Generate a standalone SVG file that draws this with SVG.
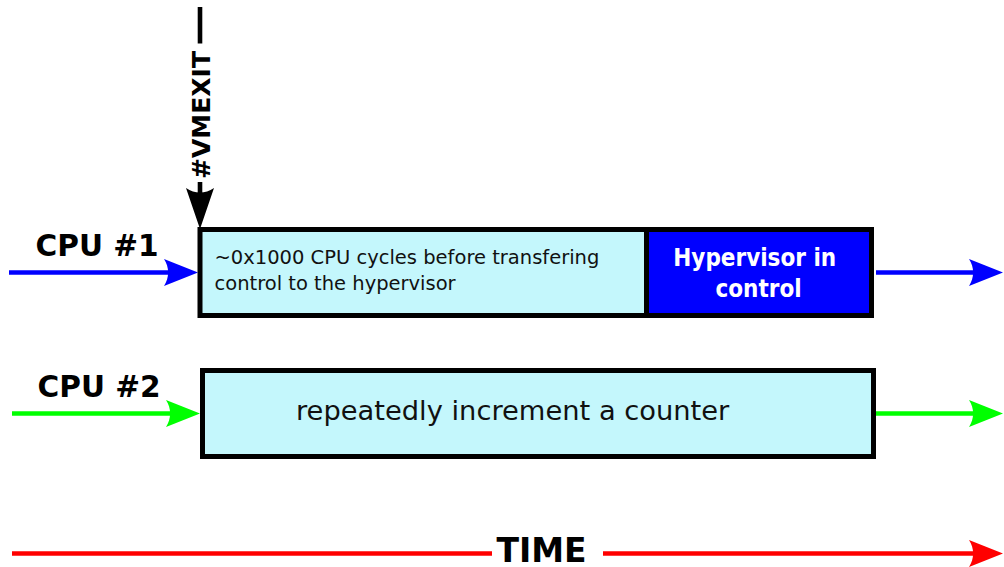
<svg xmlns="http://www.w3.org/2000/svg" width="1004" height="567" viewBox="0 0 1004 567">
  <style>
    .lbl { font-family: "DejaVu Sans", "Liberation Sans", sans-serif; font-weight: bold; fill: #000; }
    .txt { font-family: "DejaVu Sans", "Liberation Sans", sans-serif; fill: #111; }
    .hyp { font-family: "DejaVu Sans Condensed", "DejaVu Sans", sans-serif; font-stretch: condensed; font-weight: bold; fill: #fff; }
    .box { stroke: #000; stroke-width: 5; }
    .wire { fill: none; stroke-width: 4.6; }
  </style>
  <defs>
    <marker id="headBlue" markerUnits="userSpaceOnUse" orient="auto" viewBox="-15 -15 45 30" markerWidth="45" markerHeight="30" refX="0" refY="0" overflow="visible">
      <path d="M24,0 L-10,-13.5 C-4.5,-5 -4.5,5 -10,13.5 Z" fill="#0000ff"/>
    </marker>
    <marker id="headGreen" markerUnits="userSpaceOnUse" orient="auto" viewBox="-15 -15 45 30" markerWidth="45" markerHeight="30" refX="0" refY="0" overflow="visible">
      <path d="M24,0 L-10,-13.5 C-4.5,-5 -4.5,5 -10,13.5 Z" fill="#00ff00"/>
    </marker>
    <marker id="headRed" markerUnits="userSpaceOnUse" orient="auto" viewBox="-15 -15 45 30" markerWidth="45" markerHeight="30" refX="0" refY="0" overflow="visible">
      <path d="M24,0 L-10,-13.5 C-4.5,-5 -4.5,5 -10,13.5 Z" fill="#ff0000"/>
    </marker>
    <marker id="headBlack" markerUnits="userSpaceOnUse" orient="auto" viewBox="-15 -15 45 30" markerWidth="45" markerHeight="30" refX="0" refY="0" overflow="visible">
      <path d="M28,0 L-13,-14 C-7,-5 -7,5 -13,14 Z" fill="#000"/>
    </marker>
  </defs>

  <rect width="1004" height="567" fill="#fff"/>

  <!-- connectors -->
  <g id="connectors">
    <path class="wire" d="M9,272.5 H174" stroke="#0000ff" marker-end="url(#headBlue)"/>
    <path class="wire" d="M876,272.5 H979" stroke="#0000ff" marker-end="url(#headBlue)"/>
    <path class="wire" d="M12,413.5 H176" stroke="#00ff00" marker-end="url(#headGreen)"/>
    <path class="wire" d="M876,413.5 H979" stroke="#00ff00" marker-end="url(#headGreen)"/>
    <path class="wire" d="M12,553.5 H492" stroke="#ff0000"/>
    <path class="wire" d="M603,553.5 H979" stroke="#ff0000" marker-end="url(#headRed)"/>
    <path class="wire" d="M200,7 V43.5" stroke="#000" stroke-width="5"/>
    <path class="wire" d="M200,182 V201" stroke="#000" stroke-width="5" marker-end="url(#headBlack)"/>
  </g>

  <!-- labels -->
  <text id="cpu1-label" class="lbl" x="35.5" y="256" font-size="29.6">CPU #1</text>
  <text id="cpu2-label" class="lbl" x="37.5" y="396.5" font-size="29.6">CPU #2</text>
  <text id="vmexit-label" class="lbl" font-size="25" text-anchor="middle" transform="translate(209.5,115) rotate(-90)">#VMEXIT</text>
  <text id="time-label" class="lbl" x="541.5" y="562" font-size="33" text-anchor="middle">TIME</text>

  <!-- CPU #1 timeline -->
  <g id="guest-run">
    <rect class="box" x="200" y="229.5" width="446.5" height="86" fill="#c4f7fc"/>
    <text class="txt" font-size="19.5">
      <tspan x="214.5" y="264">~0x1000 CPU cycles before transfering</tspan>
      <tspan x="214.5" y="289.5">control to the hypervisor</tspan>
    </text>
  </g>
  <g id="hypervisor">
    <rect class="box" x="646.5" y="229.5" width="225" height="86" fill="#0000ff"/>
    <text class="hyp" font-size="24" text-anchor="middle">
      <tspan x="758.5" y="265.5">Hypervisor in</tspan>
      <tspan x="758.5" y="296.5">control</tspan>
    </text>
  </g>

  <!-- CPU #2 timeline -->
  <g id="counter-loop">
    <rect class="box" x="202.5" y="370.5" width="671" height="86" fill="#c4f7fc"/>
    <text class="txt" x="296" y="420" font-size="27.3">repeatedly increment a counter</text>
  </g>
</svg>
